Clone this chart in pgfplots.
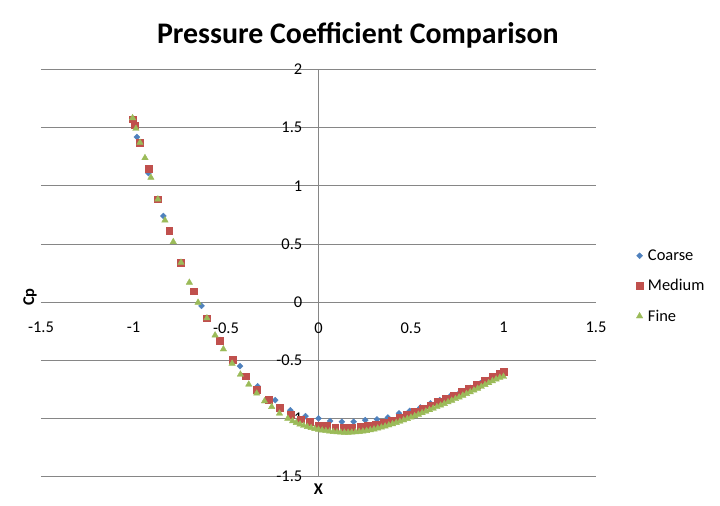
\documentclass[border=0pt]{standalone}
\usepackage{fontspec}
\setmainfont{Carlito}
\usepackage{pgfplots}
\pgfplotsset{compat=1.18}
\definecolor{cblue}{HTML}{4F81BD}
\definecolor{cred}{HTML}{C0504D}
\definecolor{cgreen}{HTML}{9BBB59}
\definecolor{gridgray}{HTML}{868686}
\newcommand{\tickfont}{\fontsize{16.5}{18}\selectfont}
\begin{document}
\begin{tikzpicture}
\path[use as bounding box] (0,0) rectangle (720bp,506bp);
\begin{axis}[
  at={(41bp,29.3bp)}, anchor=south west,
  scale only axis, width=555bp, height=407.2bp,
  xmin=-1.5, xmax=1.5, ymin=-1.5, ymax=2,
  enlargelimits=false, clip=false,
  axis lines=middle,
  axis line style={-, draw=gridgray, line width=0.8bp},
  every inner x axis line/.append style={-},
  every inner y axis line/.append style={-},
  xtick={-1.5,-1,-0.5,0,0.5,1,1.5},
  ytick={-1.5,-1,-0.5,0,0.5,1,1.5,2},
  xticklabels={-1.5,-1,-0.5,0,0.5,1,1.5},
  yticklabels={-1.5,-1,-0.5,0,0.5,1,1.5,2},
  hide obscured x ticks=false, hide obscured y ticks=false,
  major tick length=0pt,
  ymajorgrids,
  grid style={draw=gridgray, line width=0.8bp},
  xticklabel style={anchor=north, inner sep=0pt, yshift=-20bp, font=\tickfont},
  yticklabel style={anchor=east, inner sep=0pt, xshift=-16bp, font=\tickfont},
  xlabel={X}, ylabel={Cp},
  every axis x label/.style={at={(axis description cs:0.5,0)}, anchor=center, yshift=-12.5bp, font=\bfseries\tickfont},
  every axis y label/.style={at={(axis description cs:-0.0198,0.441)}, rotate=90, anchor=center, font=\bfseries\tickfont},
  title={Pressure Coefficient Comparison},
  title style={at={(axis description cs:0.571,1)}, anchor=center, yshift=28bp, font=\bfseries\fontsize{30}{34}\selectfont},
  legend style={at={(axis description cs:1,0.468)}, anchor=west, xshift=37bp, draw=none, fill=none, font=\tickfont, row sep=17.5bp, column sep=5bp, nodes={inner sep=0pt}},
  legend cell align=left,
  legend image code/.code={\draw[#1] plot coordinates {(0bp,0bp)};},
]
\addplot[only marks, mark=square*, mark size=2.1bp, mark options={rotate=45, fill=cblue, draw=cblue}] coordinates {
(-1.000,1.565) (-0.982,1.420) (-0.919,1.110) (-0.868,0.885) (-0.839,0.741)
(-0.743,0.341) (-0.632,-0.032) (-0.530,-0.326) (-0.424,-0.550) (-0.329,-0.722)
(-0.234,-0.842) (-0.152,-0.928) (-0.070,-0.979) (0.000,-0.999) (0.063,-1.022)
(0.126,-1.028) (0.190,-1.028) (0.253,-1.014) (0.316,-1.008) (0.375,-0.991)
(0.435,-0.956) (0.493,-0.934) (0.551,-0.905) (0.605,-0.870) (0.655,-0.842)
(0.710,-0.810) (0.765,-0.775) (0.820,-0.737) (0.875,-0.697) (0.930,-0.655)
(0.975,-0.620) (1.000,-0.600)
};
\addlegendentry{Coarse}
\addplot[only marks, mark=square*, mark size=3.4bp, mark options={fill=cred, draw=cred}] coordinates {
(-1.005,1.572) (-0.992,1.521) (-0.965,1.372) (-0.920,1.149) (-0.868,0.885)
(-0.807,0.613) (-0.743,0.341) (-0.675,0.094) (-0.603,-0.137) (-0.532,-0.332)
(-0.464,-0.492) (-0.395,-0.636) (-0.334,-0.750) (-0.269,-0.836) (-0.210,-0.906)
(-0.150,-0.966) (-0.095,-1.005) (-0.049,-1.028) (0.000,-1.057) (0.045,-1.065)
(0.090,-1.076) (0.135,-1.076) (0.180,-1.076) (0.226,-1.071) (0.268,-1.062)
(0.310,-1.050) (0.352,-1.034) (0.394,-1.015) (0.436,-0.993) (0.478,-0.967)
(0.520,-0.940) (0.562,-0.913) (0.604,-0.885) (0.646,-0.857) (0.688,-0.829)
(0.730,-0.800) (0.772,-0.770) (0.814,-0.739) (0.856,-0.707) (0.898,-0.674)
(0.940,-0.640) (0.980,-0.612) (1.000,-0.599)
};
\addlegendentry{Medium}
\addplot[only marks, mark=triangle*, mark size=3.7bp, mark options={fill=cgreen, draw=cgreen}] coordinates {
(-1.005,1.583) (-0.987,1.492) (-0.965,1.372) (-0.938,1.240) (-0.906,1.071)
(-0.868,0.885) (-0.830,0.704) (-0.785,0.518) (-0.743,0.341) (-0.698,0.169)
(-0.651,-0.003) (-0.603,-0.137) (-0.559,-0.284) (-0.514,-0.404) (-0.467,-0.527)
(-0.422,-0.621) (-0.377,-0.707) (-0.334,-0.784) (-0.292,-0.851) (-0.253,-0.899)
(-0.211,-0.956) (-0.166,-1.000) (-0.140,-1.022) (-0.120,-1.036) (-0.100,-1.049)
(-0.080,-1.061) (-0.060,-1.071) (-0.040,-1.080) (-0.020,-1.088) (0.000,-1.095)
(0.020,-1.101) (0.040,-1.106) (0.060,-1.110) (0.080,-1.114) (0.100,-1.117)
(0.120,-1.119) (0.140,-1.120) (0.160,-1.120) (0.180,-1.119) (0.200,-1.117)
(0.220,-1.114) (0.240,-1.110) (0.260,-1.105) (0.280,-1.099) (0.300,-1.092)
(0.320,-1.084) (0.340,-1.076) (0.360,-1.067) (0.380,-1.057) (0.400,-1.047)
(0.420,-1.036) (0.440,-1.025) (0.460,-1.014) (0.480,-1.002) (0.500,-0.990)
(0.520,-0.978) (0.540,-0.965) (0.560,-0.952) (0.580,-0.939) (0.600,-0.926)
(0.620,-0.913) (0.640,-0.900) (0.660,-0.887) (0.680,-0.873) (0.700,-0.859)
(0.720,-0.845) (0.740,-0.831) (0.760,-0.817) (0.780,-0.802) (0.800,-0.787)
(0.820,-0.772) (0.840,-0.757) (0.860,-0.742) (0.880,-0.726) (0.900,-0.710)
(0.920,-0.694) (0.940,-0.678) (0.960,-0.662) (0.980,-0.648) (1.000,-0.640)
};
\addlegendentry{Fine}
\end{axis}
\end{tikzpicture}
\end{document}
